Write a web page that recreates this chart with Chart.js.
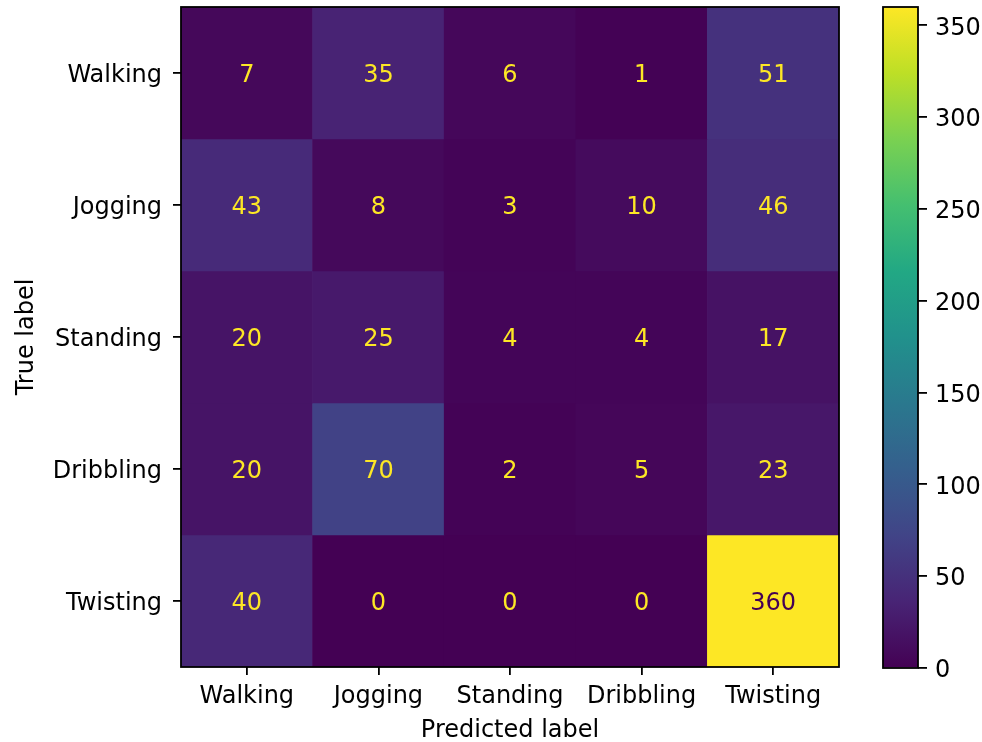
<!DOCTYPE html>
<html>
<head>
<meta charset="utf-8">
<script src="https://cdn.jsdelivr.net/npm/chart.js@4/dist/chart.umd.min.js"></script>
<style>
  html, body { margin: 0; padding: 0; background: #ffffff; }
  #wrap { position: relative; width: 982px; height: 742px; background: #ffffff; }
  #matrix { position: absolute; left: 0; top: 0; }
  #cbar { position: absolute; left: 860px; top: 0; }
</style>
</head>
<body>
<div id="wrap">
  <canvas id="matrix" width="860" height="742"></canvas>
  <canvas id="cbar" width="122" height="742"></canvas>
</div>
<script>
// Class names (rows = true label, columns = predicted label)
const classes = ['Walking', 'Jogging', 'Standing', 'Dribbling', 'Twisting'];

// Confusion-matrix counts, one array per true label
const walkingRow   = [7, 35, 6, 1, 51];
const joggingRow   = [43, 8, 3, 10, 46];
const standingRow  = [20, 25, 4, 4, 17];
const dribblingRow = [20, 70, 2, 5, 23];
const twistingRow  = [40, 0, 0, 0, 360];

// Colour bar range and tick values
const colorMin = 0;
const colorMax = 360;
const colorbarTicks = [0, 50, 100, 150, 200, 250, 300, 350];

const rows = [walkingRow, joggingRow, standingRow, dribblingRow, twistingRow];

// Viridis colour map control points (evenly spaced from 0 to 1)
const viridisStops = ['#440154', '#482475', '#414487', '#355f8d', '#2a788e',
                      '#21918c', '#22a884', '#44bf70', '#7ad151', '#bddf26', '#fde725'];

function hexToRgb(h) {
  return [parseInt(h.slice(1, 3), 16), parseInt(h.slice(3, 5), 16), parseInt(h.slice(5, 7), 16)];
}
function viridis(t) {
  t = Math.max(0, Math.min(1, t));
  const pos = t * (viridisStops.length - 1);
  const i = Math.min(Math.floor(pos), viridisStops.length - 2);
  const f = pos - i;
  const a = hexToRgb(viridisStops[i]), b = hexToRgb(viridisStops[i + 1]);
  const c = a.map((v, k) => Math.round(v + (b[k] - v) * f));
  return `rgb(${c[0]},${c[1]},${c[2]})`;
}
const norm = v => (v - colorMin) / (colorMax - colorMin);

const FONT = { family: '"DejaVu Sans", sans-serif', size: 24 };
const INK = '#000000';

// Each true-label row is a dataset of floating bars spanning [r, r+1] on the y axis
const datasets = rows.map((vals, r) => ({
  label: classes[r],
  counts: vals,
  data: vals.map(() => [r, r + 1]),
  backgroundColor: vals.map(v => viridis(norm(v))),
  borderWidth: 0,
  barPercentage: 1.0,
  categoryPercentage: 1.0,
  grouped: false
}));

// Black frame around the plotting area
const framePlugin = {
  id: 'frame',
  afterDatasetsDraw(chart) {
    const { ctx, chartArea: a } = chart;
    ctx.save();
    ctx.strokeStyle = INK;
    ctx.lineWidth = 1.8;
    ctx.strokeRect(a.left, a.top, a.right - a.left, a.bottom - a.top);
    ctx.restore();
  }
};

// Count written in the middle of each cell (digits centred on the cell)
const cellTextPlugin = {
  id: 'cellText',
  afterDatasetsDraw(chart) {
    const { ctx } = chart;
    const threshold = (colorMin + colorMax) / 2;
    ctx.save();
    ctx.font = `${FONT.size}px ${FONT.family}`;
    ctx.textAlign = 'center';
    ctx.textBaseline = 'alphabetic';
    const digitHeight = ctx.measureText('0').actualBoundingBoxAscent;
    chart.data.datasets.forEach((ds, di) => {
      chart.getDatasetMeta(di).data.forEach((bar, j) => {
        const v = ds.counts[j];
        const p = bar.getProps(['x', 'y', 'base'], true);
        ctx.fillStyle = v > threshold ? viridisStops[0] : viridisStops[viridisStops.length - 1];
        ctx.fillText(String(v), p.x, (p.y + p.base) / 2 + digitHeight / 2);
      });
    });
    ctx.restore();
  }
};

new Chart(document.getElementById('matrix'), {
  type: 'bar',
  data: { labels: classes, datasets },
  plugins: [framePlugin, cellTextPlugin],
  options: {
    responsive: false,
    animation: false,
    layout: { padding: { left: 0, top: 7, right: 21, bottom: 0 } },
    plugins: { legend: { display: false }, tooltip: { enabled: false } },
    scales: {
      x: {
        type: 'category',
        offset: true,
        afterFit(scale) { scale.height = 75; scale.paddingLeft = 0; scale.paddingRight = 0; },
        grid: { drawOnChartArea: false, drawTicks: true, tickLength: 8, offset: false, color: INK, lineWidth: 1.8 },
        border: { display: false },
        ticks: { color: INK, font: FONT, padding: 7, maxRotation: 0, autoSkip: false },
        title: { display: true, text: 'Predicted label', color: INK, font: FONT, padding: { top: 0, bottom: -3 } }
      },
      y: {
        type: 'linear',
        min: 0,
        max: classes.length,
        reverse: true,
        afterFit(scale) { scale.width = 181; scale.paddingTop = 0; scale.paddingBottom = 0; },
        afterBuildTicks(scale) { scale.ticks = classes.map((c, i) => ({ value: i + 0.5 })); },
        grid: { drawOnChartArea: false, drawTicks: true, tickLength: 8, color: INK, lineWidth: 1.8 },
        border: { display: false },
        ticks: {
          color: INK, font: FONT, padding: 11, autoSkip: false, labelOffset: 3,
          callback: v => classes[Math.floor(v)]
        },
        title: { display: true, text: 'True label', color: INK, font: FONT, padding: { top: 12, bottom: 0 } }
      }
    }
  }
});

// Colour bar: one bar from colorMin to colorMax filled with the viridis gradient
new Chart(document.getElementById('cbar'), {
  type: 'bar',
  data: {
    labels: [''],
    datasets: [{
      data: [[colorMin, colorMax]],
      borderWidth: 0,
      barPercentage: 1.0,
      categoryPercentage: 1.0,
      backgroundColor(ctx) {
        const chart = ctx.chart;
        const ys = chart.scales.y;
        if (!ys || !chart.chartArea) return viridisStops[0];
        const g = chart.ctx.createLinearGradient(0, ys.getPixelForValue(colorMin), 0, ys.getPixelForValue(colorMax));
        viridisStops.forEach((c, i) => g.addColorStop(i / (viridisStops.length - 1), c));
        return g;
      }
    }]
  },
  plugins: [framePlugin],
  options: {
    responsive: false,
    animation: false,
    layout: { padding: { left: 23, top: 7, right: 0, bottom: 74 } },
    plugins: { legend: { display: false }, tooltip: { enabled: false } },
    scales: {
      x: { display: false, offset: true },
      y: {
        type: 'linear',
        position: 'right',
        min: colorMin,
        max: colorMax,
        afterFit(scale) { scale.width = 64; scale.paddingTop = 0; scale.paddingBottom = 0; },
        afterBuildTicks(scale) { scale.ticks = colorbarTicks.map(v => ({ value: v })); },
        grid: { drawOnChartArea: false, drawTicks: true, tickLength: 9, color: INK, lineWidth: 1.8 },
        border: { display: false },
        ticks: { color: INK, font: FONT, padding: 8, autoSkip: false, labelOffset: 3 }
      }
    }
  }
});
</script>
</body>
</html>
